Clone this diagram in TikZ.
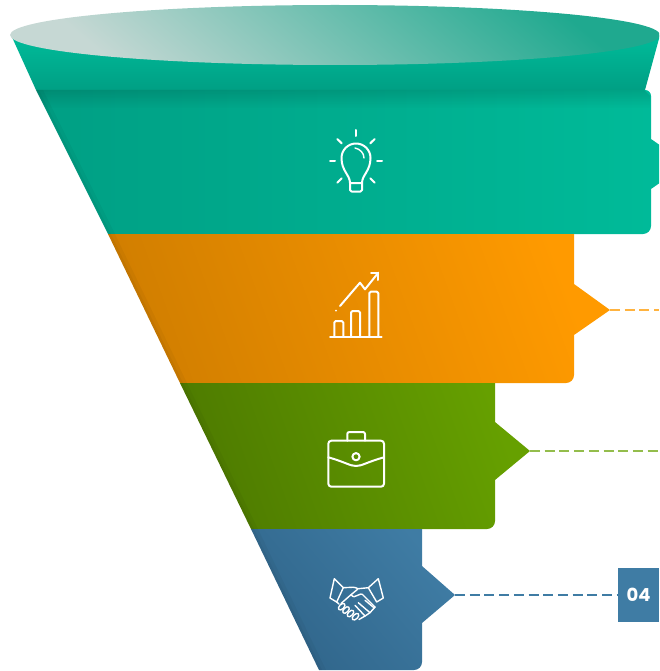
\documentclass[tikz,border=0pt]{standalone}
\usepackage{fontspec}
\setsansfont{Poppins}
\usetikzlibrary{fadings}
\definecolor{tealdark}{HTML}{009F84}
\definecolor{teallight}{HTML}{00BC9A}
\definecolor{orangedark}{HTML}{D27F00}
\definecolor{orangelight}{HTML}{FF9A00}
\definecolor{greendark}{HTML}{4E7B00}
\definecolor{greenlight}{HTML}{66A000}
\definecolor{bluedark}{HTML}{30658A}
\definecolor{bluelight}{HTML}{3F7CA4}
\definecolor{rimlight}{HTML}{C6D8D4}
\definecolor{rimmid}{HTML}{62BFAB}
\definecolor{rimdark}{HTML}{1FA98F}
\tikzset{
	icon/.style={draw=white, line width=2pt, line join=round, line cap=round},
	thinicon/.style={icon, line width=1.4pt},
	leader/.style={line width=1.2pt, dash pattern=on 10pt off 4.7pt},
	edgeshade/.style={fill=black, opacity=.035},
	numbox/.style={fill=bluelight, text=white, minimum width=41pt, minimum height=54pt,
		inner sep=0pt, font=\sffamily\bfseries\fontsize{18}{18}\selectfont},
}
\begin{document}
\begin{tikzpicture}[x=1pt,y=-1pt]

	\clip (0,0) rectangle (659,671);
	\shade[top color=teallight, bottom color=tealdark] (11,35) -- (36,90) -- (645,90) -- (660,35) -- cycle;
	\shade[bottom color=teallight, top color=tealdark, shading angle=90]
		(36,90) -- (645,90) arc (270:360:6) -- (651,139) -- (687,164) -- (651,189)
		-- (651,226) arc (0:90:8) -- (108,234) -- cycle;
	\fill[black, opacity=.12, path fading=south] (36,90) -- (645,90) -- (651,96) -- (651,108) -- (45,108) -- cycle;
	\shade[left color=orangedark, right color=orangelight, shading angle=110]
		(108,234) -- (574,234) -- (574,284) -- (610,310) -- (574,335)
		-- (574,375) arc (0:90:8) -- (180,383) -- cycle;
	\shade[left color=greendark, right color=greenlight, shading angle=110]
		(180,383) -- (495,383) -- (495,422) -- (530,451) -- (495,480)
		-- (495,521) arc (0:90:8) -- (251,529) -- cycle;
	\shade[left color=bluedark, right color=bluelight, shading angle=130]
		(251,529) -- (422,529) -- (422,566) -- (455,595) -- (422,623)
		-- (422,662) arc (0:90:8) -- (319,670) -- cycle;
	\foreach \sw in {3,7} {
		\fill[edgeshade] (36,90) -- (36+\sw,90) -- (108+\sw,234) -- (108,234) -- cycle;
		\fill[edgeshade] (108,234) -- (108+\sw,234) -- (180+\sw,383) -- (180,383) -- cycle;
		\fill[edgeshade] (180,383) -- (180+\sw,383) -- (251+\sw,529) -- (251,529) -- cycle;
		\fill[edgeshade] (251,529) -- (251+\sw,529) -- (319+\sw,670) -- (319,670) -- cycle;
	}
	\shade[left color=rimlight, middle color=rimmid, right color=rimdark, shading angle=140]
		(335,35) ellipse (325 and 30);

	\coordinate (tip2) at (610,310);
	\coordinate (end2) at (659,310);
	\coordinate (tip3) at (530,451);
	\coordinate (end3) at (659,451);
	\coordinate (tip4) at (455,595);
	\node[numbox] (num4) at (638.5,595) {\raisebox{-2pt}{04}};
	\draw[leader, draw=orangelight!75!white] (tip2) -- (end2);
	\draw[leader, draw=greenlight!70!white] (tip3) -- (end3);
	\draw[leader, draw=bluelight] (tip4) -- (num4);

	% bulb
	\draw[icon] (350,183) .. controls (350,175) and (341.5,171) .. (341.5,158)
		arc (180:360:14.5) .. controls (370.5,171) and (362,175) .. (362,183) -- cycle;
	\draw[icon, rounded corners=1.5pt] (350,183) -- (350,191.5) -- (362,191.5) -- (362,183);
	\draw[thinicon] (355,148) .. controls (360,149) and (364,153) .. (364,158);
	\draw[icon] (356,130) -- (356,136);
	\draw[icon] (330,160.7) -- (335,160.7);
	\draw[icon] (377,160.7) -- (382,160.7);
	\draw[icon] (337.3,139) -- (341.7,143.3);
	\draw[icon] (374.7,139) -- (370.3,143.3);
	\draw[icon] (337.3,182.7) -- (341.7,178.3);
	\draw[icon] (374.7,182.7) -- (370.3,178.3);

	% chart
	\draw[icon] (330,336.7) -- (381.7,336.7);
	\draw[icon, rounded corners=1.5pt] (334.3,336.7) -- (334.3,321) -- (343.3,321) -- (343.3,336.7);
	\draw[icon, rounded corners=1.5pt] (351,336.7) -- (351,311) -- (360,311) -- (360,336.7);
	\draw[icon, rounded corners=1.5pt] (369.3,336.7) -- (369.3,291.7) -- (378.3,291.7) -- (378.3,336.7);
	\draw[icon] (340,306) -- (360,282.7) -- (365,289.3) -- (378.3,272.7);
	\draw[icon] (371,272.7) -- (378.3,272.7) -- (378.3,280);
	\fill[white] (336,310.7) circle (1);

	% briefcase
	\draw[icon, rounded corners=3pt] (328.3,440.7) rectangle (384,486.7);
	\draw[icon, rounded corners=2pt] (347.3,440.7) -- (347.3,432) -- (365,432) -- (365,440.7);
	\draw[icon] (328.3,457.3) .. controls (345,462) and (350,466) .. (356,466)
		.. controls (362,466) and (367,462) .. (384,457.3);
	\draw[icon] (356,456.7) circle (3.6);

	% handshake
	\draw[thinicon] (334.3,578.7) -- (343.3,587.7) -- (336.7,602) -- (330,598) -- cycle;
	\draw[thinicon] (378.3,578.7) -- (383.3,598) -- (376.7,602) -- (368.3,587.7) -- cycle;
	\draw[thinicon, rounded corners=1pt] (343.3,587.7) -- (354,587.2) -- (358.3,588.7) -- (351,594.7) -- (353.3,597)
		-- (361.7,593.7) -- (375,607);
	\draw[thinicon] (358.3,588.7) -- (368.3,587.7);
	\draw[thinicon] (351,594.7) -- (341,603.5);
	\draw[thinicon] (336.7,602) -- (339,604);
	\foreach \fx/\fy in {341.7/606.7,346/610,350.5/613.5,355.5/616.7}
		\draw[thinicon, shift={(\fx,\fy)}, rotate=45] (0,0) ellipse (4 and 2.3);
	\draw[thinicon] (365,600.3) -- (374.3,608);
	\draw[thinicon] (358.3,602.7) -- (370,612.7);
	\draw[thinicon] (355,605.3) -- (365,616);
	\draw[thinicon] (375,607) -- (370,612.7) -- (365,616) -- (359,619.5);
\end{tikzpicture}
\end{document}
